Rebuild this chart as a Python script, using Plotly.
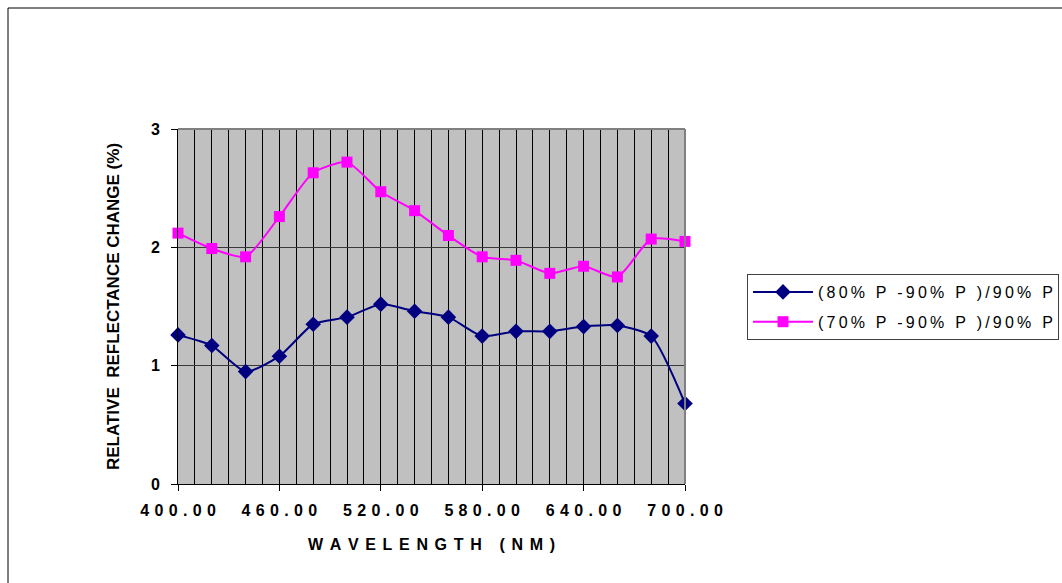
import plotly.graph_objects as go

# Wavelength samples (nm) and relative reflectance change (%)
wavelength = [400, 420, 440, 460, 480, 500, 520, 540, 560, 580, 600, 620, 640, 660, 680, 700]
change_80 = [1.26, 1.17, 0.95, 1.08, 1.35, 1.41, 1.52, 1.46, 1.41, 1.25, 1.29, 1.29, 1.33, 1.34, 1.25, 0.68]
change_70 = [2.12, 1.99, 1.92, 2.26, 2.63, 2.72, 2.47, 2.31, 2.10, 1.92, 1.89, 1.78, 1.84, 1.75, 2.07, 2.05]
x_tick_vals = [400, 460, 520, 580, 640, 700]
y_tick_vals = [0, 1, 2, 3]
series_names = ["(80% P -90% P )/90% P", "(70% P -90% P )/90% P"]

FONT = "Arial, Liberation Sans, sans-serif"
THIN = "\u2009"
THICK = "\u2004"
HAIR = "\u200a"


def spaced(s, sep=THIN):
    """Widen the tracking of a label by inserting narrow spaces between glyphs."""
    return sep.join(s)


fig = go.Figure()
fig.add_trace(go.Scatter(
    x=wavelength, y=change_80, name=spaced(series_names[0]), legendgroup="a",
    mode="lines+markers", line=dict(color="#000080", width=2, shape="spline", smoothing=0.6),
    marker=dict(symbol="diamond", size=12, color="#000080"), cliponaxis=False,
))
fig.add_trace(go.Scatter(
    x=wavelength, y=change_70, name=spaced(series_names[1]), legendgroup="b",
    mode="lines+markers", line=dict(color="#FF00FF", width=2, shape="spline", smoothing=0.6),
    marker=dict(symbol="square", size=11, color="#FF00FF"), cliponaxis=False,
))

W, H = 1062, 583
L, R, T, B = 178, 685, 129, 484  # plot area edges in pixels


def px(x):
    return (x - L) / (R - L)


def py(y):
    return (B - y) / (B - T)


fig.update_layout(
    width=W, height=H,
    margin=dict(l=L, r=W - R, t=T, b=H - B, pad=0, autoexpand=False),
    paper_bgcolor="white", plot_bgcolor="#C0C0C0",
    font=dict(family=FONT, color="black"),
    showlegend=True,
    legend=dict(
        x=px(747), xanchor="left", y=py(307), yanchor="middle",
        bordercolor="#404040", borderwidth=1, bgcolor="white",
        font=dict(family=FONT, size=16, color="black"),
        itemwidth=60, tracegroupgap=6,
    ),
    shapes=[
        # outer chart frame
        dict(type="rect", xref="paper", yref="paper",
             x0=px(8), x1=px(1070), y0=py(8), y1=py(600),
             line=dict(color="black", width=1), layer="below"),
        # gray plot border on top and right
        dict(type="line", xref="paper", yref="paper", x0=0, x1=1, y0=1, y1=1,
             line=dict(color="#808080", width=2)),
        dict(type="line", xref="paper", yref="paper", x0=1, x1=1, y0=0, y1=1,
             line=dict(color="#808080", width=2)),
    ],
)

fig.update_xaxes(
    range=[400, 700], tickmode="array", tickvals=x_tick_vals,
    ticktext=[spaced(f"{v:.2f}", THICK) for v in x_tick_vals],
    ticks="outside", ticklen=6, tickcolor="black", ticklabelstandoff=6,
    showline=True, linecolor="black", linewidth=1,
    showgrid=True, gridcolor="black", gridwidth=1,
    minor=dict(dtick=10, tick0=400, showgrid=True, gridcolor="black", gridwidth=1),
    tickfont=dict(family=FONT, size=16, color="black", weight="bold"),
    title=dict(text=spaced("WAVELENGTH (NM)", THICK + HAIR), standoff=20,
               font=dict(family=FONT, size=16, color="black", weight="bold")),
    zeroline=False,
)
fig.update_yaxes(
    range=[0, 3], tickmode="array", tickvals=y_tick_vals,
    ticks="outside", ticklen=6, tickcolor="black", ticklabelstandoff=8,
    showline=True, linecolor="black", linewidth=1,
    showgrid=True, gridcolor="#3a3a3a", gridwidth=1,
    tickfont=dict(family=FONT, size=16, color="black", weight="bold"),
    title=dict(text="RELATIVE \u00a0REFLECTANCE CHANGE (%)", standoff=26,
               font=dict(family=FONT, size=17, color="black", weight="bold")),
    zeroline=False,
)

fig.write_html("out.html")
